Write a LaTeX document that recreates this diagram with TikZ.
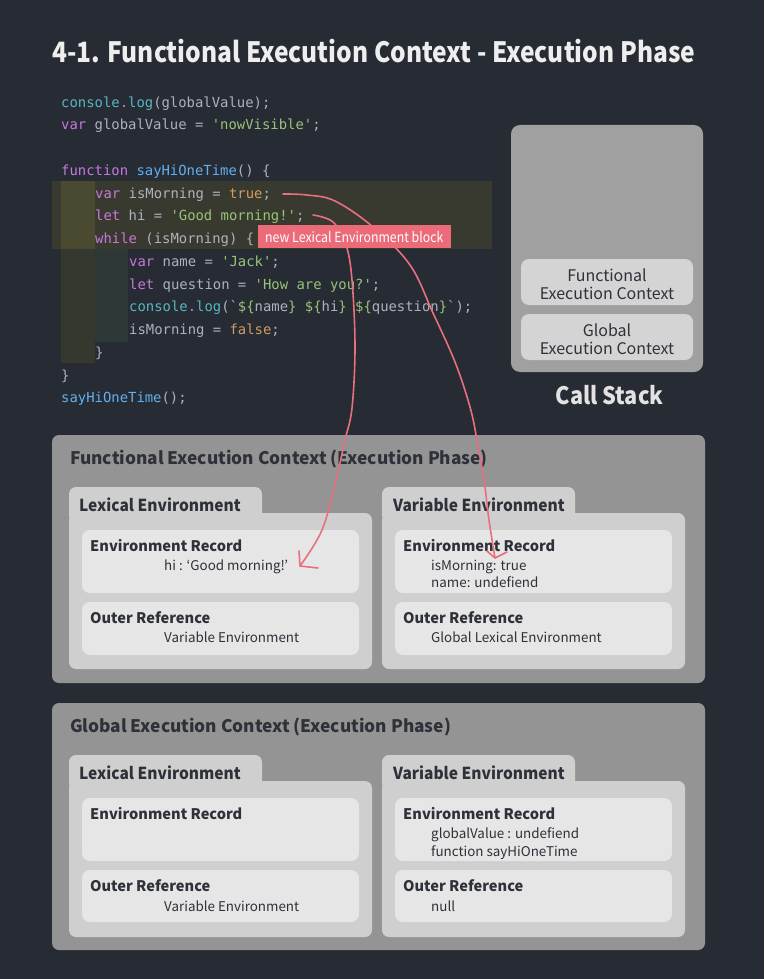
\documentclass[tikz,border=0pt]{standalone}
\usepackage{fontspec}
\setmainfont{Noto Sans CJK KR}
\newfontfamily\codefont{DejaVu Sans Mono}
\usetikzlibrary{arrows.meta}
\definecolor{bg}{HTML}{272B33}
\definecolor{titlec}{HTML}{EEEEEE}
\definecolor{cdef}{HTML}{ABB2BF}
\definecolor{ckw}{HTML}{C678DD}
\definecolor{cfn}{HTML}{61AFEF}
\definecolor{ccy}{HTML}{56B6C2}
\definecolor{cstr}{HTML}{98C379}
\definecolor{cnum}{HTML}{D19A66}
\definecolor{hl}{HTML}{393A2F}
\definecolor{guideA}{HTML}{4A4A30}
\definecolor{guideB}{HTML}{34382F}
\definecolor{guideC}{HTML}{2E3937}
\definecolor{tagc}{HTML}{EC6B79}
\definecolor{arrowc}{HTML}{E6707E}
\definecolor{outerc}{HTML}{949494}
\definecolor{folderc}{HTML}{CFCFCF}
\definecolor{recc}{HTML}{E6E6E6}
\definecolor{txt}{HTML}{2E3139}
\definecolor{stackc}{HTML}{A0A0A0}
\definecolor{stackin}{HTML}{D4D4D4}
\definecolor{stacklbl}{HTML}{E2E2E2}
\newcommand{\sx}[2]{\scalebox{#1}[1]{#2}}
\tikzset{
  lbl/.style={inner sep=0pt, anchor=base west, text=txt},
  hd/.style={lbl, font=\fontsize{17.3}{20}\selectfont\bfseries},
  tabl/.style={lbl, font=\fontsize{16.5}{20}\selectfont\bfseries},
  rec/.style={lbl, font=\fontsize{14.6}{18}\selectfont\bfseries},
  val/.style={lbl, font=\fontsize{13.4}{16}\selectfont},
  stk/.style={inner sep=0pt, anchor=base, text=txt, font=\fontsize{16}{18}\selectfont},
  code/.style={inner sep=0pt, anchor=base west, text=cdef, font=\codefont\fontsize{13.9}{16}\selectfont},
  outerbox/.style={fill=outerc, rounded corners=7pt, inner sep=0pt},
  folder/.style={fill=folderc, rounded corners=7pt, inner sep=0pt},
  recbox/.style={fill=recc, rounded corners=8pt, inner sep=0pt},
  stackbox/.style={fill=stackin, rounded corners=8pt, minimum width=172pt, minimum height=46pt, inner sep=0pt},
  arr/.style={draw=arrowc, line width=1.6pt, line cap=round, line join=round},
}
\begin{document}
\begin{tikzpicture}[x=1pt,y=-1pt]
\useasboundingbox (0,0) rectangle (764,979);
\fill[bg] (0,0) rectangle (764,979);

% title
\node[lbl, text=titlec, font=\fontsize{28}{32}\selectfont\bfseries] (title) at (52,63) {\sx{0.876}{4-1. Functional Execution Context - Execution Phase}};

% call stack
\path[fill=stackc, rounded corners=9pt] (511,125) rectangle (703,372);
\node[stackbox] (sfec) at (607,282) {};
\node[stackbox] (sgec) at (607,337) {};
\node[stk] (sfec1) at (607,281) {Functional};
\node[stk] (sfec2) at (607,299) {Execution Context};
\node[stk] (sgec1) at (607,336) {Global};
\node[stk] (sgec2) at (607,354) {Execution Context};
\node[inner sep=0pt, anchor=base, text=stacklbl, font=\fontsize{24}{28}\selectfont\bfseries] (cs) at (609.5,404) {\sx{0.905}{Call Stack}};

% ===== Functional EC =====
\node[outerbox, minimum width=653pt, minimum height=248pt] (fec) at (378.5,559) {};
\node[hd] (fect) at (70,464) {Functional Execution Context (Execution Phase)};
\path[folder] (69,487) rectangle (262,522);
\path[folder] (69,513) rectangle (372,669);
\path[folder] (382,487) rectangle (575,522);
\path[folder] (382,513) rectangle (685,669);
\node[tabl] (fleT) at (79,511) {\sx{0.94}{Lexical Environment}};
\node[tabl] (fveT) at (393,511) {\sx{0.94}{Variable Environment}};
\node[recbox, minimum width=277pt, minimum height=63pt] (fler) at (220.5,561.5) {};
\node[recbox, minimum width=277pt, minimum height=53pt] (fleo) at (220.5,628.5) {};
\node[recbox, minimum width=277pt, minimum height=63pt] (fver) at (533.5,561.5) {};
\node[recbox, minimum width=277pt, minimum height=53pt] (fveo) at (533.5,628.5) {};
\node[rec] (flerT) at (90,551) {Environment Record};
\node[val] (flerV) at (164,570) {hi : ‘Good morning!’};
\node[rec] (fleoT) at (90,623) {Outer Reference};
\node[val] (fleoV) at (164,642) {Variable Environment};
\node[rec] (fverT) at (403,551) {Environment Record};
\node[val] (fverV1) at (431,570) {isMorning: true};
\node[val] (fverV2) at (431,587) {name: undefiend};
\node[rec] (fveoT) at (403,623) {Outer Reference};
\node[val] (fveoV) at (431,642) {Global Lexical Environment};

% ===== Global EC =====
\node[outerbox, minimum width=653pt, minimum height=247pt] (gec) at (378.5,826.5) {};
\node[hd] (gect) at (70,732) {Global Execution Context (Execution Phase)};
\path[folder] (69,755) rectangle (262,790);
\path[folder] (69,781) rectangle (372,937);
\path[folder] (382,755) rectangle (575,790);
\path[folder] (382,781) rectangle (685,937);
\node[tabl] (gleT) at (79,779) {\sx{0.94}{Lexical Environment}};
\node[tabl] (gveT) at (393,779) {\sx{0.94}{Variable Environment}};
\node[recbox, minimum width=277pt, minimum height=63pt] (gler) at (220.5,829.5) {};
\node[recbox, minimum width=277pt, minimum height=52pt] (gleo) at (220.5,896) {};
\node[recbox, minimum width=277pt, minimum height=63pt] (gver) at (533.5,829.5) {};
\node[recbox, minimum width=277pt, minimum height=52pt] (gveo) at (533.5,896) {};
\node[rec] (glerT) at (90,819) {Environment Record};
\node[rec] (gleoT) at (90,891) {Outer Reference};
\node[val] (gleoV) at (164,911) {Variable Environment};
\node[rec] (gverT) at (403,819) {Environment Record};
\node[val] (gverV1) at (431,838) {globalValue : undefiend};
\node[val] (gverV2) at (431,856) {function sayHiOneTime};
\node[rec] (gveoT) at (403,891) {Outer Reference};
\node[val] (gveoV) at (431,911) {null};

% ===== code =====
\fill[hl] (52,181) rectangle (492,249);
\fill[guideA] (61,181) rectangle (95,249);
\fill[guideB] (61,249) rectangle (95,363);
\fill[guideC] (95,249) rectangle (128,342);
\node[code] (c0) at (61,107) {\textcolor{ccy}{console}\textcolor{ckw}{.}\textcolor{ccy}{log}(globalValue);};
\node[code] (c1) at (61,129.75) {\textcolor{ckw}{var} globalValue = \textcolor{cstr}{'nowVisible'};};
\node[code] (c3) at (61,175.25) {\textcolor{ckw}{function} \textcolor{cfn}{sayHiOneTime}() \{};
\node[code] (c4) at (95,198) {\textcolor{ckw}{var} isMorning = \textcolor{cnum}{true};};
\node[code] (c5) at (95,220.75) {\textcolor{ckw}{let} hi = \textcolor{cstr}{'Good morning!'};};
\node[code] (c6) at (95,243.5) {\textcolor{ckw}{while} (isMorning) \{};
\node[code] (c7) at (129,266.25) {\textcolor{ckw}{var} name = \textcolor{cstr}{'Jack'};};
\node[code] (c8) at (129,289) {\textcolor{ckw}{let} question = \textcolor{cstr}{'How are you?'};};
\node[code] (c9) at (129,311.75) {\textcolor{ccy}{console}\textcolor{ckw}{.}\textcolor{ccy}{log}(`\textcolor{cstr}{\$\{}name\textcolor{cstr}{\}} \textcolor{cstr}{\$\{}hi\textcolor{cstr}{\}} \textcolor{cstr}{\$\{}question\textcolor{cstr}{\}}`);};
\node[code] (c10) at (129,334.5) {isMorning = \textcolor{cnum}{false};};
\node[code] (c11) at (95,357.25) {\}};
\node[code] (c12) at (61,380) {\}};
\node[code] (c13) at (61,402.75) {\textcolor{cfn}{sayHiOneTime}();};

% ===== arrows =====
\coordinate (a1s) at (283,194);
\coordinate (a1t) at (495,558);
\coordinate (a2s) at (313,215);
\coordinate (a2t) at (300,566);
\draw[arr] plot[smooth, tension=0.6] coordinates {(a1s) (307,195) (335,201) (373,227) (410,265) (433,313) (455,362) (470,407) (477,440) (484,480) (489,520) (a1t)};
\draw[arr] (a1t) -- (487,551) (a1t) -- (507,552);
\draw[arr] plot[smooth, tension=0.6] coordinates {(a2s) (333,222) (346,245) (352,280) (355,347) (352,408) (345,440) (336,480) (322,530) (a2t)};
\draw[arr] (a2t) -- (299,551) (a2t) -- (318,568);

% tag
\node[fill=tagc, minimum width=193pt, minimum height=23pt, inner sep=0pt] (tag) at (354.5,236.5) {};
\node[inner sep=0pt, anchor=base west, text=white, font=\fontsize{14}{16}\selectfont] (tagt) at (265,242) {\sx{0.88}{new Lexical Environment block}};
\end{tikzpicture}
\end{document}
